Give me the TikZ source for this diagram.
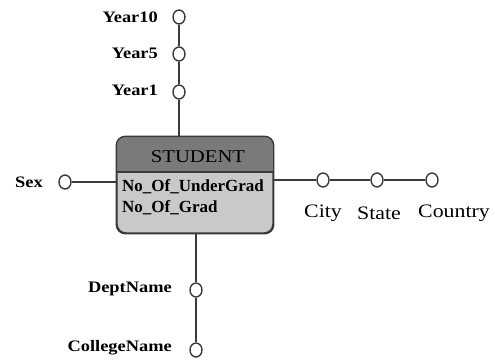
\documentclass[tikz,border=0pt]{standalone}
\usepackage{fontspec}
\setmainfont{Liberation Serif}
\newfontfamily\lblfont[FakeStretch=1.15]{Liberation Serif}
\usetikzlibrary{shapes.geometric}
\definecolor{linegray}{HTML}{3A3A3A}
\definecolor{headgray}{HTML}{7A7A7A}
\definecolor{bodygray}{HTML}{C9C9C9}
\tikzset{
  attr/.style={ellipse, draw=linegray, line width=1.4pt, fill=white,
    minimum width=12pt, minimum height=14pt, inner sep=0pt},
  conn/.style={draw=linegray, line width=1.8pt},
  lbl/.style={inner sep=0pt, font=\lblfont\bfseries\fontsize{16}{18}\selectfont},
  lblr/.style={inner sep=0pt, font=\lblfont\fontsize{19}{21}\selectfont},
  boxtxt/.style={inner sep=0pt, anchor=west, font=\bfseries\fontsize{17}{19}\selectfont},
}
\begin{document}
\begin{tikzpicture}[x=1pt,y=-1pt]
\useasboundingbox (0,0) rectangle (495,362);

% entity box
\node[draw=linegray, line width=1.4pt, rounded corners=9pt, fill=bodygray,
  minimum width=156pt, minimum height=96pt, inner sep=0pt] (student) at (195,185) {};
\begin{scope}
  \clip[rounded corners=9pt] (student.north west) rectangle (student.south east);
  \fill[headgray] (student.north west) rectangle (273,172);
\end{scope}
\draw[linegray, line width=1.2pt] (117,172) -- (273,172);
\draw[linegray, line width=1.4pt, rounded corners=9pt] (student.north west) rectangle (student.south east);
\node[inner sep=0pt, font=\lblfont\fontsize{18}{20}\selectfont] (title) at (198,157) {STUDENT};
\node[boxtxt] (ug) at (122,187) {No\_Of\_UnderGrad};
\node[boxtxt] (gr) at (122,208) {No\_Of\_Grad};

% attribute circles
\node[attr] (year10) at (179,17) {};
\node[attr] (year5) at (179,54) {};
\node[attr] (year1) at (179,92) {};
\node[attr] (sex) at (65,182) {};
\node[attr] (city) at (323,180) {};
\node[attr] (state) at (377,180) {};
\node[attr] (country) at (432,180) {};
\node[attr] (dept) at (196,290) {};
\node[attr] (college) at (196,350) {};

% connectors
\draw[conn] (year10) -- (year5);
\draw[conn] (year5) -- (year1);
\draw[conn] (year1) -- (year1 |- student.north);
\draw[conn] (sex) -- (sex -| student.west);
\draw[conn] (student.east |- city) -- (city);
\draw[conn] (city) -- (state);
\draw[conn] (state) -- (country);
\draw[conn] (dept |- student.south) -- (dept);
\draw[conn] (dept) -- (college);

% labels
\node[lbl, anchor=east] (lyear10) at (158,17) {Year10};
\node[lbl, anchor=east] (lyear5) at (158,53) {Year5};
\node[lbl, anchor=east] (lyear1) at (158,90) {Year1};
\node[lbl, anchor=east] (lsex) at (43,182) {Sex};
\node[lblr] (lcity) at (323,213) {City};
\node[lblr] (lstate) at (379,213) {State};
\node[lblr] (lcountry) at (454,213) {Country};
\node[lbl, anchor=east] (ldept) at (172,289) {DeptName};
\node[lbl, anchor=east] (lcollege) at (172,348) {CollegeName};
\end{tikzpicture}
\end{document}
